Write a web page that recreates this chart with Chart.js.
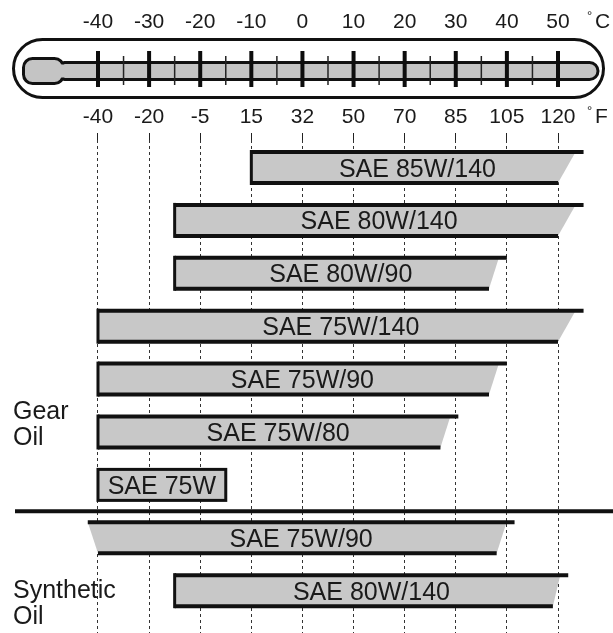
<!DOCTYPE html>
<html>
<head>
<meta charset="utf-8">
<script src="https://cdn.jsdelivr.net/npm/chart.js@4.4.0/dist/chart.umd.min.js"></script>
<style>
  html, body { margin: 0; padding: 0; background: #fff; }
  #wrap { width: 613px; height: 633px; position: relative; }
</style>
</head>
<body>
<div id="wrap"><canvas id="oilChart"></canvas></div>
<script>
// grades, top to bottom (last two rows are synthetic oils)
const grades = ['SAE 85W/140', 'SAE 80W/140', 'SAE 80W/90', 'SAE 75W/140', 'SAE 75W/90', 'SAE 75W/80', 'SAE 75W', 'SAE 75W/90', 'SAE 80W/140'];
// lowest temperature in °C, upper and lower edge of each bar
const lowTopC    = [-10, -25, -25, -40, -40, -40, -40, -42, -25];
const lowBottomC = [-10, -25, -25, -40, -40, -40, -40, -40, -25];
// highest temperature in °C, upper and lower edge
const highTopC    = [55, 55, 40, 55, 40, 30.5, -15, 41.5, 52];
const highBottomC = [50, 50, 36.5, 50, 36.5, 27, -15, 38, 49];
// thermometer scale
const celsiusTicks = [-40, -30, -20, -10, 0, 10, 20, 30, 40, 50];
const fahrenheitTicks = ['-40', '-20', '-5', '15', '32', '50', '70', '85', '105', '120'];

const FONT = '"Liberation Sans", Arial, Helvetica, sans-serif';
const INK = '#1a1a1a';
const X_MIN = -59.17, X_MAX = 60.76;

function line(ctx, x1, y1, x2, y2) {
  ctx.beginPath();
  ctx.moveTo(x1, y1);
  ctx.lineTo(x2, y2);
  ctx.stroke();
}

// glass thermometer between the two scales
const thermometer = {
  id: 'thermometer',
  afterDraw(chart) {
    const ctx = chart.ctx;
    const xs = chart.scales.c;
    ctx.save();
    ctx.strokeStyle = '#111';
    ctx.lineWidth = 3;
    ctx.beginPath();
    ctx.roundRect(13.5, 39.5, 590, 58, 29);
    ctx.stroke();

    // capillary and bulb
    ctx.fillStyle = '#c4c4c4';
    ctx.beginPath();
    ctx.roundRect(56, 62.5, 542, 17, 8.5);
    ctx.fill();
    ctx.stroke();
    ctx.beginPath();
    ctx.roundRect(23.5, 58.5, 40, 25, 9);
    ctx.fill();
    ctx.stroke();
    ctx.fillRect(58, 64.5, 12, 13);

    // scale marks
    ctx.strokeStyle = '#222';
    ctx.lineWidth = 1.5;
    for (let i = 0; i < celsiusTicks.length - 1; i++) {
      const px = xs.getPixelForValue((celsiusTicks[i] + celsiusTicks[i + 1]) / 2);
      line(ctx, px, 56, px, 85);
    }
    ctx.strokeStyle = '#0d0d0d';
    ctx.lineWidth = 4;
    celsiusTicks.forEach(v => {
      const px = xs.getPixelForValue(v);
      line(ctx, px, 51, px, 87);
    });

    // units
    const ux = xs.getPixelForValue(50) + 37;
    ctx.fillStyle = INK;
    ctx.textAlign = 'left';
    ctx.textBaseline = 'middle';
    ctx.font = '21px ' + FONT;
    ctx.fillText('C', ux, 22);
    ctx.fillText('F', ux, 117.5);
    ctx.font = '13px ' + FONT;
    ctx.fillText('°', ux - 8, 16);
    ctx.fillText('°', ux - 8, 111);
    ctx.restore();
  }
};

// bars with a torn right end, labels and group captions
const oilBars = {
  id: 'oilBars',
  afterDatasetsDraw(chart) {
    const ctx = chart.ctx;
    const xs = chart.scales.c;
    const ys = chart.scales.y;
    const meta = chart.getDatasetMeta(0);
    ctx.save();
    meta.data.forEach((bar, i) => {
      const top = bar.y - bar.height / 2;
      const bottom = bar.y + bar.height / 2;
      const lt = xs.getPixelForValue(lowTopC[i]);
      const lb = xs.getPixelForValue(lowBottomC[i]);
      const ht = xs.getPixelForValue(highTopC[i]);
      const hb = xs.getPixelForValue(highBottomC[i]);
      const boxed = highTopC[i] === highBottomC[i];

      ctx.fillStyle = '#c8c8c8';
      ctx.beginPath();
      ctx.moveTo(lt, top);
      ctx.lineTo(boxed ? ht : ht - 8, top);
      ctx.lineTo(hb, bottom);
      ctx.lineTo(lb, bottom);
      ctx.closePath();
      ctx.fill();

      ctx.strokeStyle = '#111';
      if (boxed) {
        ctx.lineWidth = 3;
        ctx.strokeRect(lb, top, hb - lb, bottom - top);
      } else {
        ctx.lineWidth = 4;
        line(ctx, lt, top, ht, top);
        line(ctx, lb, bottom, hb, bottom);
        if (lowTopC[i] === lowBottomC[i]) {
          ctx.lineWidth = 3;
          line(ctx, lb, top - 2, lb, bottom + 2);
        }
      }

      ctx.fillStyle = INK;
      ctx.font = '25px ' + FONT;
      ctx.textAlign = 'center';
      ctx.textBaseline = 'alphabetic';
      ctx.fillText(grades[i], (lt + ht) / 2, bar.y + 9);
    });

    // gear oils / synthetic oils divider
    ctx.strokeStyle = '#111';
    ctx.lineWidth = 4;
    const sy = ys.getPixelForValue(6.5);
    line(ctx, 15, sy, chart.width, sy);

    ctx.fillStyle = INK;
    ctx.font = '25px ' + FONT;
    ctx.textAlign = 'left';
    [[['Gear', 'Oil'], 4.83], [['Synthetic', 'Oil'], 8.22]].forEach(([words, at]) => {
      const mid = ys.getPixelForValue(at);
      ctx.fillText(words[0], 13, mid - 13 + 9);
      ctx.fillText(words[1], 13, mid + 13 + 9);
    });
    ctx.restore();
  }
};

const setTicks = scale => { scale.ticks = celsiusTicks.map(v => ({ value: v })); };

new Chart(document.getElementById('oilChart'), {
  type: 'bar',
  data: {
    datasets: [{
      data: grades.map((g, i) => ({ x: [lowBottomC[i], highTopC[i]], y: i })),
      backgroundColor: 'rgba(0,0,0,0)',
      borderWidth: 0,
      barThickness: 31,
      xAxisID: 'c',
      yAxisID: 'y'
    }]
  },
  options: {
    indexAxis: 'y',
    responsive: true,
    maintainAspectRatio: false,
    animation: false,
    layout: { padding: { top: 9.4, left: 0, right: 0, bottom: 0 } },
    plugins: { legend: { display: false }, tooltip: { enabled: false } },
    scales: {
      c: {
        type: 'linear', axis: 'x', position: 'top', weight: 1,
        min: X_MIN, max: X_MAX,
        afterBuildTicks: setTicks,
        // long invisible tick marks leave room for the thermometer
        grid: { display: true, drawOnChartArea: false, drawTicks: true, tickLength: 67.2, tickColor: 'rgba(0,0,0,0)' },
        border: { display: false },
        ticks: { padding: 0, color: INK, font: { family: FONT, size: 21 }, maxRotation: 0, autoSkip: false }
      },
      f: {
        type: 'linear', axis: 'x', position: 'top', weight: 0,
        min: X_MIN, max: X_MAX,
        afterBuildTicks: setTicks,
        grid: { color: '#333', lineWidth: 1, tickLength: 7, tickColor: '#222' },
        border: { display: false, dash: [3, 3] },
        ticks: {
          padding: 3, color: INK, font: { family: FONT, size: 21 }, maxRotation: 0, autoSkip: false,
          callback: (v, i) => fahrenheitTicks[i]
        }
      },
      y: { type: 'linear', display: false, reverse: true, offset: false, min: -0.52, max: 8.8 }
    }
  },
  plugins: [thermometer, oilBars]
});
</script>
</body>
</html>
